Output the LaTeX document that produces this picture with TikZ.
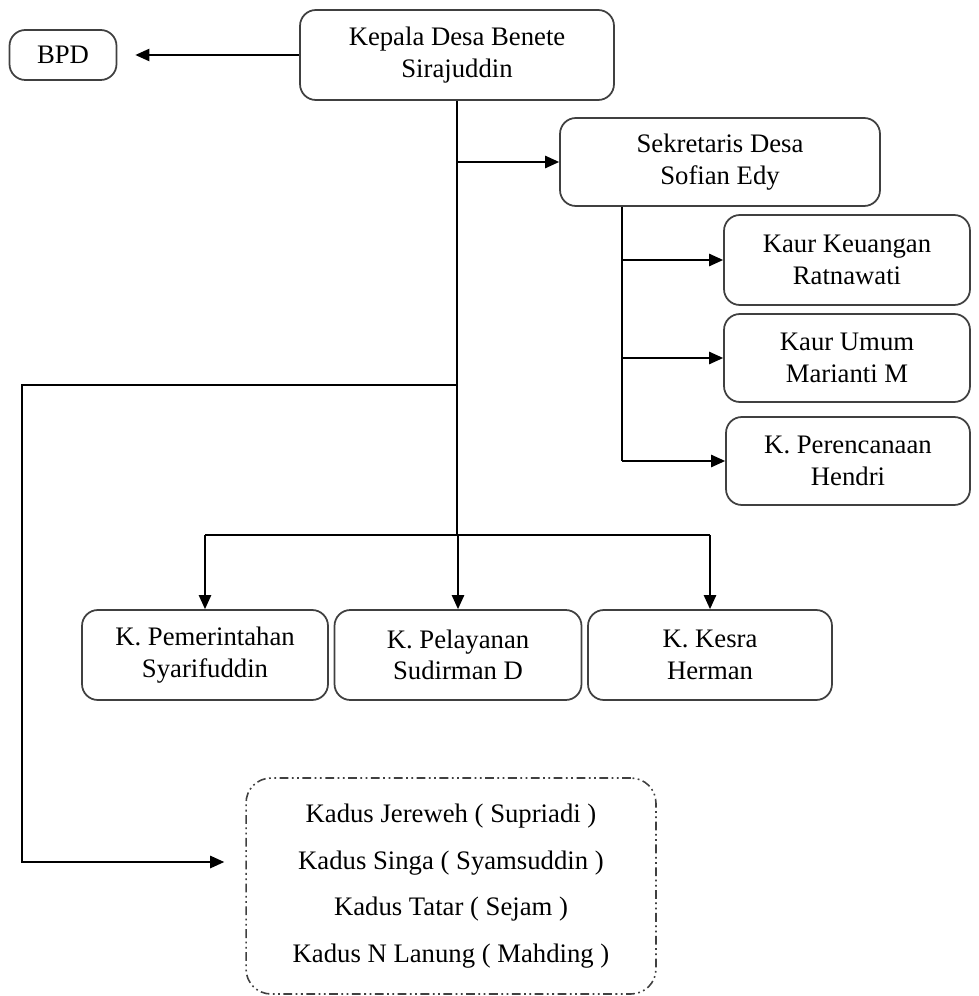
\documentclass[tikz,border=0pt]{standalone}
\usepackage{fontspec}
\setmainfont{Liberation Serif}
\usetikzlibrary{arrows.meta}
\begin{document}
\begin{tikzpicture}[x=0.02cm,y=-0.02cm,
  unit/.style={draw=black!75,line width=1pt,rounded corners=9pt,align=center,
    inner sep=0pt,font=\fontsize{15.2}{18}\selectfont},
  link/.style={line width=1pt,-{Triangle[length=8pt,width=7pt]}},
  bus/.style={line width=1pt}]
\useasboundingbox (0,0) rectangle (978,996);
% boxes
\node[unit,minimum width=2.14cm,minimum height=1cm] (bpd) at (63,55) {BPD};
\node[unit,minimum width=6.28cm,minimum height=1.8cm] (kades) at (457,55) {Kepala Desa Benete\\Sirajuddin};
\node[unit,minimum width=6.4cm,minimum height=1.76cm] (sekdes) at (720,162) {Sekretaris Desa\\Sofian Edy};
\node[unit,minimum width=4.92cm,minimum height=1.8cm] (keu) at (847,260) {Kaur Keuangan\\Ratnawati};
\node[unit,minimum width=4.92cm,minimum height=1.76cm] (umum) at (847,358) {Kaur Umum\\Marianti M};
\node[unit,minimum width=4.88cm,minimum height=1.76cm] (renc) at (848,461) {K. Perencanaan\\Hendri};
\node[unit,minimum width=4.92cm,minimum height=1.8cm] (pem) at (205,655) {K. Pemerintahan\\Syarifuddin};
\node[unit,minimum width=4.94cm,minimum height=1.8cm] (pel) at (458,655) {K. Pelayanan\\Sudirman D};
\node[unit,minimum width=4.88cm,minimum height=1.8cm] (kesra) at (710,655) {K. Kesra\\Herman};
\node[unit,rounded corners=0.5cm,minimum width=8.2cm,minimum height=4.32cm,
  line width=0.9pt,dash pattern=on 5pt off 2pt on 1pt off 2pt on 1pt off 2pt,
  font=\fontsize{15.2}{26.5}\selectfont] (kadus) at (451,886)
  {Kadus Jereweh ( Supriadi )\\Kadus Singa ( Syamsuddin )\\Kadus Tatar ( Sejam )\\Kadus N Lanung ( Mahding )};
% helper points
\coordinate (hub) at (457,535);
\coordinate (sekdrop) at (622,0);
\coordinate (turn) at (22,385);
\coordinate (kadusin) at (22,862);
% connectors
\draw[link,shorten >=0.36cm] (kades.west) -- (bpd.east);
\draw[bus] (kades.south) -- (hub);
\draw[link] (sekdes.west -| kades.south) -- (sekdes.west);
\draw[bus] (sekdes.south -| sekdrop) -- (renc.west -| sekdrop);
\foreach \n in {keu,umum,renc}
  \draw[link] (\n.west -| sekdrop) -- (\n.west);
\draw[bus] (hub -| pem) -- (hub -| kesra);
\foreach \n in {pem,pel,kesra}
  \draw[link] (hub -| \n) -- (\n.north);
\draw[link,shorten >=0.42cm] (kades.south |- turn) -- (turn) -- (kadusin) -- (kadusin -| kadus.west);
\end{tikzpicture}
\end{document}
